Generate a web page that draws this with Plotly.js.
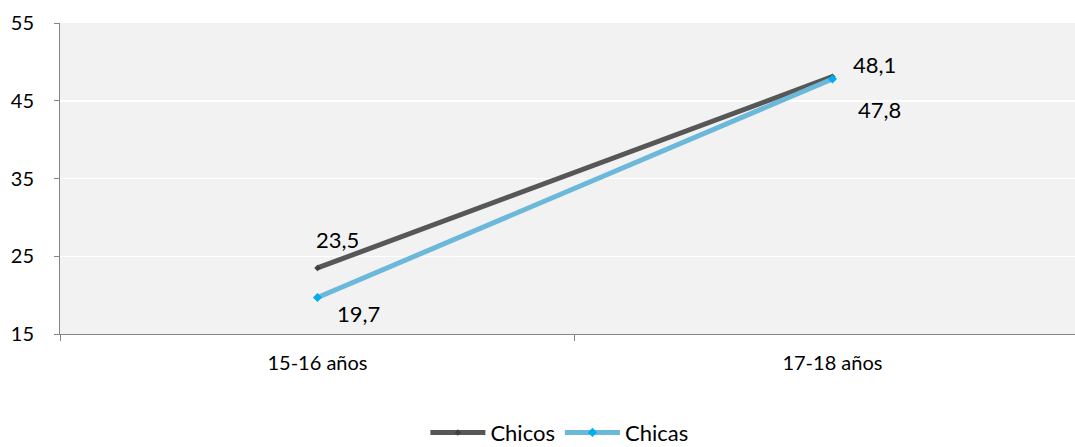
<!DOCTYPE html>
<html>
<head>
<meta charset="utf-8">
<script src="https://cdn.plot.ly/plotly-3.0.1.min.js"></script>
<style>html,body{margin:0;padding:0;background:#fff;}#chart{width:1075px;height:447px;}</style>
</head>
<body>
<div id="chart"></div>
<script>
const categories = ["15-16 años", "17-18 años"];
const chicos = [23.5, 48.1];
const chicas = [19.7, 47.8];
const seriesNames = ["Chicos", "Chicas"];
const yTicks = [15, 25, 35, 45, 55];

const FONT = "Lato, 'Open Sans', sans-serif";

const traces = [
  {
    x: categories, y: chicos, name: seriesNames[0], type: "scatter", mode: "lines+markers",
    line: {color: "#575757", width: 5},
    marker: {color: "#404040", size: 5, symbol: "diamond"},
    hoverinfo: "skip"
  },
  {
    x: categories, y: chicas, name: seriesNames[1], type: "scatter", mode: "lines+markers",
    line: {color: "#6cb8da", width: 5},
    marker: {color: "#00aeef", size: 7, symbol: "diamond"},
    hoverinfo: "skip"
  }
];

const fmt = v => v.toFixed(1).replace(".", ",");
const annotations = [];
categories.forEach((c, i) => {
  annotations.push({x: c, y: chicos[i], text: fmt(chicos[i]), showarrow: false,
    xanchor: "left", yanchor: "middle", xshift: i === 0 ? -3 : 19, yshift: i === 0 ? 28 : 12,
    font: {family: FONT, size: 22, color: "#000"}});
  annotations.push({x: c, y: chicas[i], text: fmt(chicas[i]), showarrow: false,
    xanchor: "left", yanchor: "middle", xshift: i === 0 ? 18 : 24, yshift: i === 0 ? -16 : -31,
    font: {family: FONT, size: 22, color: "#000"}});
});

const layout = {
  width: 1075, height: 447,
  margin: {l: 60, r: 0, t: 23, b: 113, autoexpand: false},
  paper_bgcolor: "#ffffff",
  plot_bgcolor: "#f2f2f2",
  separators: ",.",
  font: {family: FONT, color: "#000"},
  showlegend: true,
  legend: {orientation: "h", x: 0.492, xanchor: "center", y: -0.317, yanchor: "middle",
    font: {family: FONT, size: 22, color: "#000"}, itemwidth: 55, tracegroupgap: 0,
    bgcolor: "rgba(0,0,0,0)"},
  xaxis: {
    type: "category", range: [-0.5, 1.471], showgrid: false, zeroline: false,
    showline: true, linecolor: "#868686", linewidth: 1,
    ticks: "outside", tickson: "boundaries", ticklen: 6, tickcolor: "#868686",
    ticklabelstandoff: 11,
    tickfont: {family: FONT, size: 20, color: "#000"}, fixedrange: true
  },
  yaxis: {
    range: [15, 55], tickvals: yTicks, ticktext: yTicks.map(String),
    showgrid: true, gridcolor: "#ffffff", gridwidth: 1.5, zeroline: false,
    showline: true, linecolor: "#868686", linewidth: 1,
    ticks: "outside", ticklen: 5, tickcolor: "#868686",
    ticklabelstandoff: 16,
    tickfont: {family: FONT, size: 20, color: "#000"}, fixedrange: true
  },
  annotations: annotations
};

Plotly.newPlot("chart", traces, layout, {displayModeBar: false, staticPlot: true});
</script>
</body>
</html>
